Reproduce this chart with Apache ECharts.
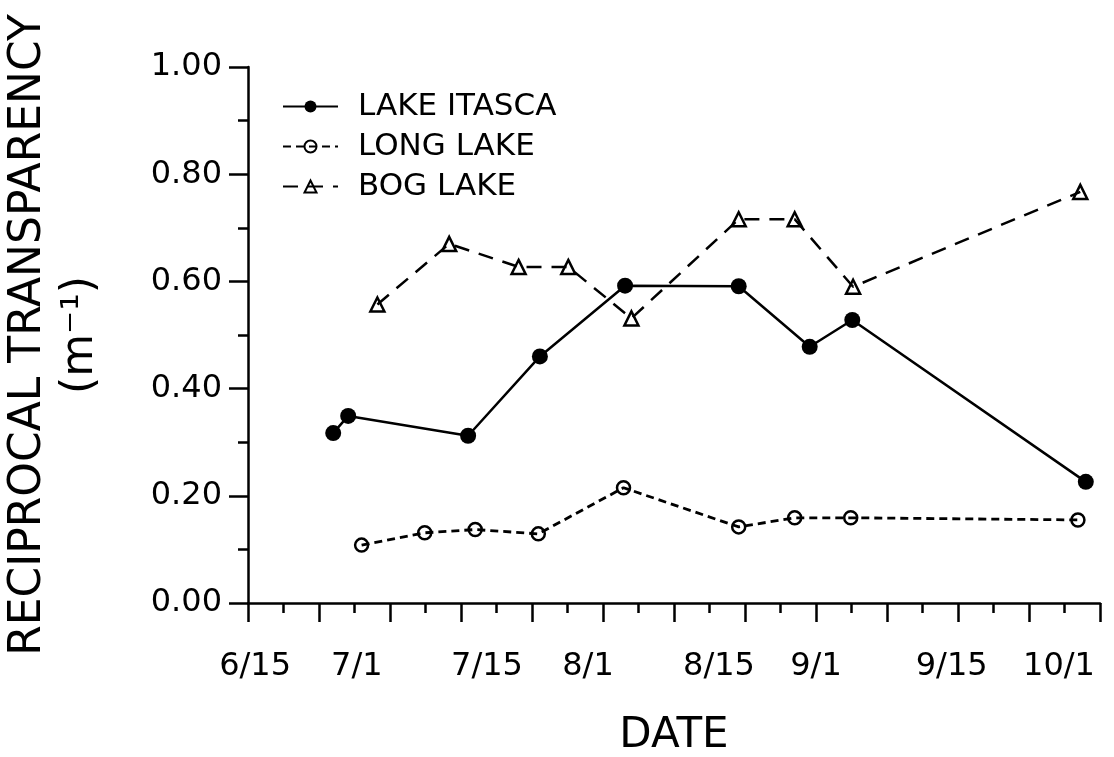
<!DOCTYPE html>
<html>
<head>
<meta charset="utf-8">
<script src="https://cdn.jsdelivr.net/npm/echarts@6/dist/echarts.min.js"></script>
<style>
html,body{margin:0;padding:0;background:#fff;}
#chart{width:1114px;height:757px;}
</style>
</head>
<body>
<div id="chart"></div>
<script>
// x values are days after June 15
const itascaDays = [10.8, 12.7, 27.9, 37.0, 47.8, 62.2, 71.2, 76.6, 106.2];
const itascaValues = [0.317, 0.349, 0.312, 0.460, 0.592, 0.591, 0.478, 0.528, 0.226];
const longDays = [14.4, 22.4, 28.8, 36.8, 47.6, 62.2, 69.3, 76.4, 105.2];
const longValues = [0.108, 0.131, 0.137, 0.129, 0.215, 0.142, 0.159, 0.159, 0.155];
const bogDays = [16.4, 25.5, 34.3, 40.6, 48.6, 62.2, 69.3, 76.7, 105.5];
const bogValues = [0.557, 0.670, 0.627, 0.627, 0.531, 0.716, 0.716, 0.590, 0.767];
const seriesNames = ['LAKE ITASCA', 'LONG LAKE', 'BOG LAKE'];
const xTickLabels = ['6/15', '7/1', '7/15', '8/1', '8/15', '9/1', '9/15', '10/1'];
const xTickLabelDays = [0.9, 13.8, 30.3, 43.1, 59.7, 72.0, 89.2, 102.8];

const FONT = 'DejaVu Sans';
const pairs = (xs, ys) => xs.map((x, i) => [x, ys[i]]);

const chart = echarts.init(document.getElementById('chart'), null, {renderer: 'canvas'});
chart.setOption({
  animation: false,
  backgroundColor: '#fff',
  grid: {left: 248, right: 14, top: 67, bottom: 154, outerBoundsMode: 'none'},
  legend: {
    orient: 'vertical', left: 277, top: 84,
    itemWidth: 55, itemHeight: 15, itemGap: 5,
    textStyle: {fontFamily: FONT, fontSize: 31, color: '#000', lineHeight: 35, padding: [0, 0, 0, 15]},
    data: seriesNames
  },
  xAxis: {
    type: 'value', min: 0, max: 108, interval: 9,
    name: 'DATE', nameLocation: 'middle', nameGap: 112,
    nameTextStyle: {fontFamily: FONT, fontSize: 42, color: '#000'},
    axisLine: {show: true, onZero: false, lineStyle: {color: '#000', width: 2.5}},
    axisTick: {show: true, length: 19, lineStyle: {color: '#000', width: 2.5}},
    minorTick: {show: true, splitNumber: 2, length: 10, lineStyle: {color: '#000', width: 2.5}},
    splitLine: {show: false},
    axisLabel: {
      customValues: xTickLabelDays,
      formatter: (v) => { const i = xTickLabelDays.indexOf(v); return i >= 0 ? xTickLabels[i] : ''; },
      fontFamily: FONT, fontSize: 32, color: '#000', margin: 48
    }
  },
  yAxis: {
    type: 'value', min: 0, max: 1, interval: 0.2,
    name: 'RECIPROCAL TRANSPARENCY\n(m\u207B\u00B9)', nameLocation: 'middle', nameRotate: 90, nameGap: 141,
    nameTextStyle: {fontFamily: FONT, fontSize: 44, color: '#000', lineHeight: 52, align: 'center'},
    axisLine: {show: true, onZero: false, lineStyle: {color: '#000', width: 2.5}},
    axisTick: {show: true, length: 19, lineStyle: {color: '#000', width: 2.5}},
    minorTick: {show: true, splitNumber: 2, length: 10, lineStyle: {color: '#000', width: 2.5}},
    splitLine: {show: false},
    axisLabel: {
      formatter: (v) => v.toFixed(2),
      fontFamily: FONT, fontSize: 32, color: '#000', margin: 26
    }
  },
  series: [
    {
      name: seriesNames[0], type: 'line', data: pairs(itascaDays, itascaValues),
      symbol: 'circle', symbolSize: 16,
      lineStyle: {color: '#000', width: 2.5},
      itemStyle: {color: '#000', borderColor: '#000', borderWidth: 0}
    },
    {
      name: seriesNames[1], type: 'line', data: pairs(longDays, longValues),
      symbol: 'circle', symbolSize: 13,
      lineStyle: {color: '#000', width: 2.8, type: [8, 5]},
      itemStyle: {color: 'rgba(255,255,255,0)', borderColor: '#000', borderWidth: 2.5}
    },
    {
      name: seriesNames[2], type: 'line', data: pairs(bogDays, bogValues),
      symbol: 'triangle', symbolSize: 14,
      lineStyle: {color: '#000', width: 2.5, type: [15, 10]},
      itemStyle: {color: 'rgba(255,255,255,0)', borderColor: '#000', borderWidth: 2.5}
    }
  ]
});
</script>
</body>
</html>
